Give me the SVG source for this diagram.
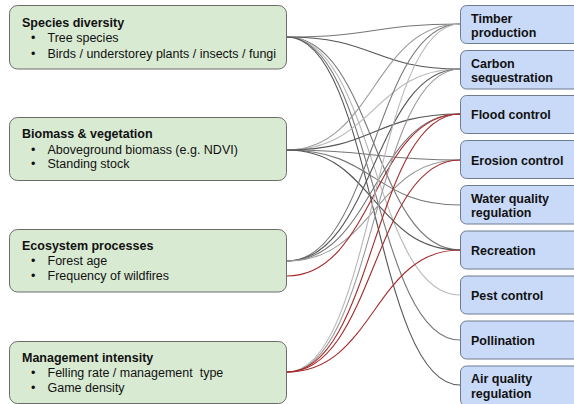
<svg xmlns="http://www.w3.org/2000/svg" width="574" height="404" viewBox="0 0 574 404">
<style>
.src rect{fill:#d9ead3;stroke:#6b6b6b;stroke-width:1}
.dst rect{fill:#c9daf8;stroke:#6f7b8f;stroke-width:1}
text{font-family:"Liberation Sans",Arial,sans-serif;font-size:12.5px;fill:#111;white-space:pre}
.t{font-weight:bold}
#connectors path{fill:none;stroke-width:1.1}
.g1{stroke:#555555}
.g2{stroke:#767676}
.g3{stroke:#9a9a9a}
.g4{stroke:#b8b8b8}
.r{stroke:#a52a2a}
</style>
<rect width="574" height="404" fill="#ffffff"/>
<g id="connectors">
<path class="g2" d="M287,37 C374,37 374,24 460,24"/>
<path class="g1" d="M287,37 C374,37 374,69 460,69"/>
<path class="g2" d="M287,37 C374,37 374,250 460,250"/>
<path class="g4" d="M287,37 C374,37 374,295 460,295"/>
<path class="g2" d="M287,37 C374,37 374,340 460,340"/>
<path class="g1" d="M287,37 C374,37 374,385 460,385"/>
<path class="g3" d="M287,150 C374,150 374,24 460,24"/>
<path class="g4" d="M287,150 C374,150 374,69 460,69"/>
<path class="g1" d="M287,150 C374,150 374,114 460,114"/>
<path class="g2" d="M287,150 C374,150 374,160 460,160"/>
<path class="g2" d="M287,150 C374,150 374,205 460,205"/>
<path class="g1" d="M287,150 C374,150 374,250 460,250"/>
<path class="g2" d="M287,261 C374,261 374,24 460,24"/>
<path class="g1" d="M287,261 C374,261 374,69 460,69"/>
<path class="g2" d="M287,261 C374,261 374,114 460,114"/>
<path class="g3" d="M287,261 C374,261 374,160 460,160"/>
<path class="r" d="M287,276 C374,276 374,114 460,114"/>
<path class="g4" d="M287,372 C374,372 374,24 460,24"/>
<path class="g3" d="M287,372 C374,372 374,69 460,69"/>
<path class="r" d="M287,372 C374,372 374,114 460,114"/>
<path class="r" d="M287,372 C374,372 374,160 460,160"/>
<path class="r" d="M287,372 C374,372 374,250 460,250"/>
</g>
<g id="n-species" class="src">
<rect x="9.5" y="5.5" width="277" height="63.5" rx="8"/>
<text class="t" x="22" y="27.3">Species diversity</text>
<text x="31" y="41.7">•</text><text x="47.5" y="41.7">Tree species</text>
<text x="31" y="57.7">•</text><text x="47.5" y="57.7">Birds / understorey plants / insects / fungi</text>
</g>
<g id="n-biomass" class="src">
<rect x="9.5" y="117.5" width="277" height="63" rx="8"/>
<text class="t" x="22" y="138.3">Biomass &amp; vegetation</text>
<text x="31" y="153.5">•</text><text x="47.5" y="153.5">Aboveground biomass (e.g. NDVI)</text>
<text x="31" y="168.3">•</text><text x="47.5" y="168.3">Standing stock</text>
</g>
<g id="n-processes" class="src">
<rect x="9.5" y="229.5" width="277" height="62.5" rx="8"/>
<text class="t" x="22" y="250">Ecosystem processes</text>
<text x="31" y="265">•</text><text x="47.5" y="265">Forest age</text>
<text x="31" y="280">•</text><text x="47.5" y="280">Frequency of wildfires</text>
</g>
<g id="n-management" class="src">
<rect x="9.5" y="341.5" width="277" height="62" rx="8"/>
<text class="t" x="22" y="361.7">Management intensity</text>
<text x="31" y="376.5">•</text><text x="47.5" y="376.5" xml:space="preserve">Felling rate / management  type</text>
<text x="31" y="391.5">•</text><text x="47.5" y="391.5">Game density</text>
</g>
<g id="n-timber" class="dst">
<rect x="460.5" y="5.5" width="124" height="38" rx="6"/>
<text class="t" x="471" y="22.7">Timber</text>
<text class="t" x="471" y="37">production</text>
</g>
<g id="n-carbon" class="dst">
<rect x="460.5" y="50.5" width="124" height="38.5" rx="6"/>
<text class="t" x="471" y="67.5">Carbon</text>
<text class="t" x="471" y="82">sequestration</text>
</g>
<g id="n-flood" class="dst">
<rect x="460.5" y="95.5" width="124" height="38" rx="6"/>
<text class="t" x="471" y="119">Flood control</text>
</g>
<g id="n-erosion" class="dst">
<rect x="460.5" y="140.5" width="124" height="38" rx="6"/>
<text class="t" x="471" y="164.5">Erosion control</text>
</g>
<g id="n-water" class="dst">
<rect x="460.5" y="185.5" width="124" height="38.5" rx="6"/>
<text class="t" x="471" y="202.5">Water quality</text>
<text class="t" x="471" y="217">regulation</text>
</g>
<g id="n-recreation" class="dst">
<rect x="460.5" y="231" width="124" height="38" rx="6"/>
<text class="t" x="471" y="254.5">Recreation</text>
</g>
<g id="n-pest" class="dst">
<rect x="460.5" y="276" width="124" height="38" rx="6"/>
<text class="t" x="471" y="299.5">Pest control</text>
</g>
<g id="n-pollination" class="dst">
<rect x="460.5" y="321" width="124" height="38" rx="6"/>
<text class="t" x="471" y="344.5">Pollination</text>
</g>
<g id="n-air" class="dst">
<rect x="460.5" y="366" width="124" height="40" rx="6"/>
<text class="t" x="471" y="383">Air quality</text>
<text class="t" x="471" y="397.5">regulation</text>
</g>
</svg>
